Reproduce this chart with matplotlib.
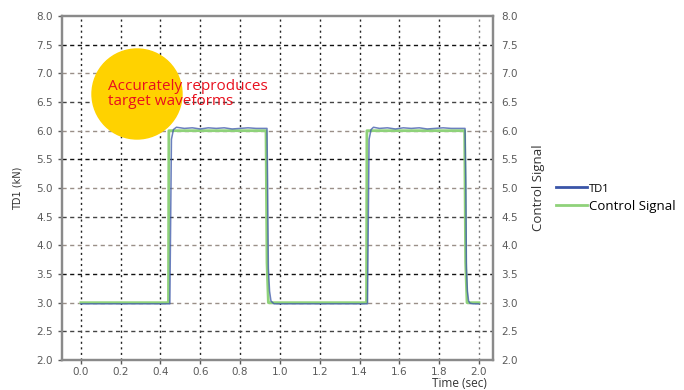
import matplotlib.pyplot as plt
from matplotlib.patches import Circle
from matplotlib.lines import Line2D

# control signal: square wave between 3 kN and 6 kN
ctrl_t = [0.0, 0.44, 0.442, 0.93, 0.935, 0.942, 1.435, 1.437, 1.928, 1.933, 1.94, 2.0]
ctrl_v = [3.0, 3.0, 6.0, 6.0, 3.7, 3.0, 3.0, 6.0, 6.0, 3.7, 3.0, 3.0]

# measured TD1 response
td1_t = [0.0, 0.10, 0.20, 0.30, 0.40, 0.447, 0.449, 0.455, 0.465, 0.48, 0.52, 0.56, 0.60,
         0.64, 0.68, 0.72, 0.76, 0.80, 0.84, 0.88, 0.92, 0.935, 0.938, 0.942, 0.948, 0.955,
         0.97, 1.05, 1.15, 1.25, 1.35, 1.44, 1.442, 1.448, 1.458, 1.47, 1.50, 1.54, 1.58,
         1.62, 1.66, 1.70, 1.74, 1.78, 1.82, 1.86, 1.90, 1.93, 1.934, 1.937, 1.942, 1.948,
         1.955, 1.97, 2.0]
td1_v = [2.98, 2.98, 2.98, 2.98, 2.98, 2.98, 3.7, 5.85, 6.02, 6.06, 6.04, 6.05, 6.03,
         6.05, 6.04, 6.05, 6.03, 6.04, 6.05, 6.04, 6.04, 6.04, 5.1, 3.6, 3.2, 3.03,
         2.98, 2.98, 2.98, 2.98, 2.98, 2.98, 3.7, 5.85, 6.02, 6.06, 6.04, 6.05, 6.03,
         6.05, 6.04, 6.05, 6.03, 6.04, 6.05, 6.04, 6.04, 6.04, 5.1, 3.6, 3.2, 3.03,
         2.99, 2.98, 2.98]

x_ticks = [0.0, 0.2, 0.4, 0.6, 0.8, 1.0, 1.2, 1.4, 1.6, 1.8, 2.0]
y_ticks = [2.0, 2.5, 3.0, 3.5, 4.0, 4.5, 5.0, 5.5, 6.0, 6.5, 7.0, 7.5, 8.0]

td1_color = '#3a55a8'
ctrl_color = '#8fd27a'
tick_color = '#5a5a5a'
spine_color = '#8a8a8a'

fig = plt.figure(figsize=(6.84, 3.9), dpi=100)
ax = fig.add_axes([0.0906, 0.0769, 0.630, 0.882])
ax2 = ax.twinx()

ax.plot(ctrl_t, ctrl_v, color=ctrl_color, lw=2.0, zorder=3)
ax.plot(td1_t, td1_v, color=td1_color, lw=1.1, alpha=0.75, zorder=4)

ax.set_xlim(-0.095, 2.07)
ax.set_ylim(2.0, 8.0)
ax2.set_ylim(2.0, 8.0)
ax.set_xticks(x_ticks)
ax.set_yticks(y_ticks)
ax2.set_yticks(y_ticks)
ax.set_xticklabels([f'{v:.1f}' for v in x_ticks])
ax.set_yticklabels([f'{v:.1f}' for v in y_ticks])
ax2.set_yticklabels([f'{v:.1f}' for v in y_ticks])

# grid: dotted verticals, dashed horizontals in alternating tones
for x in x_ticks:
    ax.axvline(x, color='#222222' if x < 2.0 else '#777777', lw=1.0,
               linestyle=(0, (1.5, 2.5)), zorder=1)
for y in y_ticks[1:-1]:
    c = '#111111' if y in (3.5, 5.5, 7.5) else ('#444444' if y in (2.5, 4.5, 6.5) else '#9a8f88')
    ax.axhline(y, color=c, lw=1.0, linestyle=(0, (3, 2.5)), zorder=1)

for a in (ax, ax2):
    for s in a.spines.values():
        s.set_color(spine_color)
        s.set_linewidth(1.6)
    a.tick_params(labelsize=7.5, colors=tick_color, length=3, width=1)
ax.tick_params(axis='x', pad=2)
ax2.tick_params(axis='y', length=0, pad=6)

ax.set_ylabel('TD1 (kN)', fontsize=7, color='#333333', labelpad=10)
ax2.set_ylabel('Control Signal', fontsize=9.5, color='#333333', family='Open Sans', labelpad=10)
fig.text(0.672, 0.0, 'Time (sec)', fontsize=8.5, color='#333333', family='Open Sans',
         ha='center', va='bottom')

# callout badge
fig.patches.append(Circle((1.37, 2.96), 0.45, transform=fig.dpi_scale_trans,
                          color='#ffd200', zorder=5))
fig.text(108 / 684, 1 - 94 / 390, 'Accurately reproduces\ntarget waveforms', fontsize=11,
         color='#e8101e', family='Open Sans', ha='left', va='center', linespacing=1.0,
         zorder=6)

handles = [Line2D([], [], color=td1_color, lw=2), Line2D([], [], color=ctrl_color, lw=2)]
leg = fig.legend(handles, ['TD1', 'Control Signal'], loc='center left',
                 bbox_to_anchor=(0.795, 0.493), frameon=False, handlelength=2.4,
                 handletextpad=0.1, labelspacing=0.35, prop={'family': 'Open Sans', 'size': 9.5})
leg.get_texts()[0].set_fontsize(8)

fig.savefig('out.png', dpi=100)
